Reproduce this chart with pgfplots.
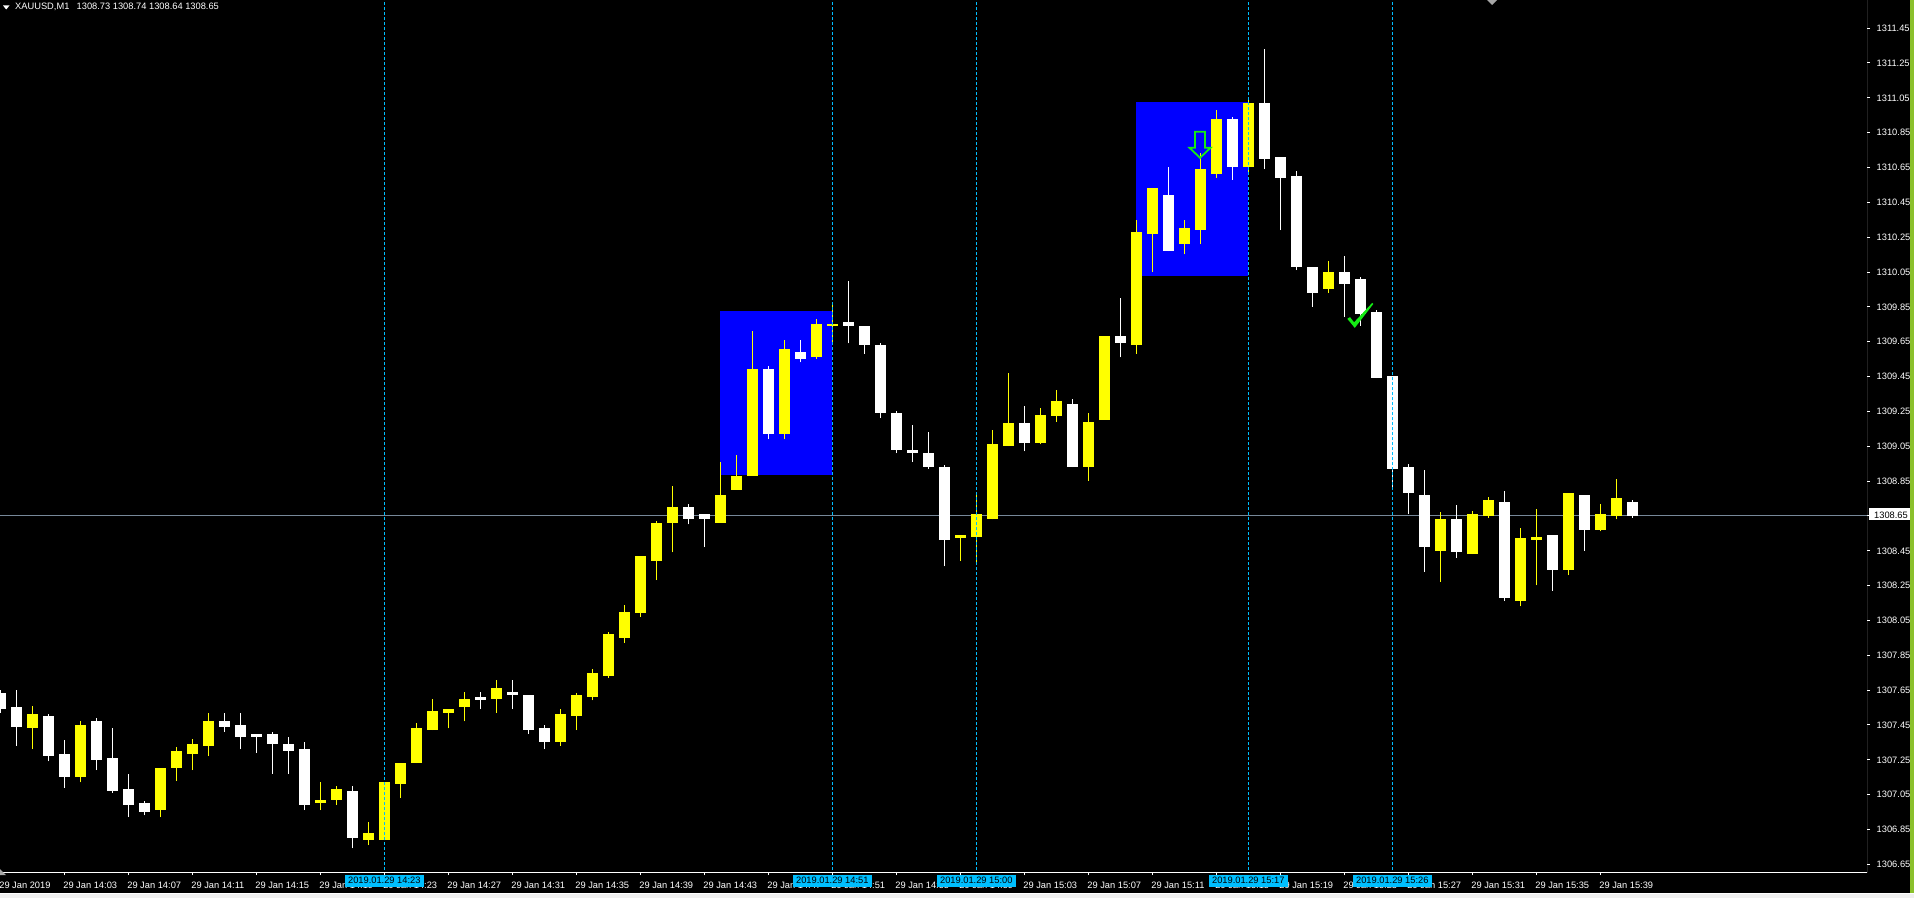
\documentclass[border=0pt]{standalone}
\usepackage{pgfplots}
\pgfplotsset{compat=1.18}
\usepackage{pgfplotstable}
\usepackage{fontspec}
\setmainfont{Liberation Sans}
\definecolor{bull}{RGB}{255,255,0}
\definecolor{bear}{RGB}{255,255,255}
\definecolor{vline}{RGB}{0,191,255}
\definecolor{boxblue}{RGB}{0,0,255}
\definecolor{bidline}{RGB}{119,136,153}
\definecolor{sig}{RGB}{20,235,20}
\definecolor{strip}{RGB}{138,192,43}

\pgfplotstableread{
k o h l c
2 1307.43 1307.56 1307.31 1307.51
5 1307.15 1307.47 1307.12 1307.45
10 1306.96 1307.20 1306.92 1307.20
11 1307.20 1307.32 1307.13 1307.30
12 1307.28 1307.37 1307.19 1307.34
13 1307.33 1307.52 1307.27 1307.47
20 1307.00 1307.12 1306.96 1307.02
21 1307.02 1307.10 1306.99 1307.08
23 1306.79 1306.89 1306.76 1306.83
24 1306.79 1307.12 1306.79 1307.12
25 1307.11 1307.23 1307.03 1307.23
26 1307.23 1307.46 1307.23 1307.43
27 1307.42 1307.60 1307.42 1307.53
28 1307.52 1307.54 1307.43 1307.54
29 1307.55 1307.64 1307.47 1307.60
31 1307.60 1307.71 1307.52 1307.66
35 1307.35 1307.54 1307.33 1307.51
36 1307.50 1307.63 1307.42 1307.62
37 1307.61 1307.77 1307.59 1307.75
38 1307.73 1307.98 1307.72 1307.97
39 1307.95 1308.14 1307.92 1308.10
40 1308.09 1308.42 1308.07 1308.42
41 1308.39 1308.62 1308.28 1308.61
42 1308.61 1308.82 1308.44 1308.70
45 1308.61 1308.96 1308.61 1308.77
46 1308.80 1309.00 1308.80 1308.88
47 1308.88 1309.71 1308.88 1309.49
49 1309.12 1309.66 1309.09 1309.61
51 1309.56 1309.78 1309.55 1309.75
52 1309.74 1309.87 1309.63 1309.75
60 1308.52 1308.54 1308.39 1308.54
61 1308.53 1308.77 1308.38 1308.66
62 1308.63 1309.14 1308.63 1309.06
63 1309.05 1309.47 1309.05 1309.18
65 1309.07 1309.27 1309.06 1309.23
66 1309.22 1309.37 1309.19 1309.31
68 1308.93 1309.24 1308.85 1309.19
69 1309.20 1309.68 1309.20 1309.68
71 1309.63 1310.35 1309.58 1310.28
72 1310.27 1310.53 1310.05 1310.53
74 1310.21 1310.35 1310.15 1310.30
75 1310.29 1310.73 1310.21 1310.64
76 1310.61 1310.98 1310.59 1310.93
78 1310.65 1311.04 1310.62 1311.02
83 1309.95 1310.11 1309.93 1310.05
90 1308.45 1308.67 1308.27 1308.63
92 1308.43 1308.68 1308.43 1308.66
93 1308.65 1308.76 1308.64 1308.74
95 1308.16 1308.58 1308.13 1308.52
96 1308.51 1308.69 1308.25 1308.53
98 1308.34 1308.78 1308.31 1308.78
100 1308.57 1308.72 1308.56 1308.66
101 1308.65 1308.86 1308.63 1308.75
}\bulltab

\pgfplotstableread{
k o h l c
0 1307.63 1307.65 1307.52 1307.54
1 1307.55 1307.65 1307.33 1307.44
3 1307.50 1307.51 1307.24 1307.27
4 1307.28 1307.36 1307.09 1307.15
6 1307.47 1307.49 1307.19 1307.25
7 1307.26 1307.43 1307.06 1307.07
8 1307.08 1307.17 1306.92 1306.99
9 1307.00 1307.01 1306.93 1306.95
14 1307.47 1307.52 1307.41 1307.44
15 1307.45 1307.52 1307.31 1307.38
16 1307.40 1307.40 1307.29 1307.38
17 1307.40 1307.41 1307.17 1307.34
18 1307.34 1307.38 1307.17 1307.30
19 1307.31 1307.35 1306.96 1306.99
22 1307.07 1307.10 1306.74 1306.80
30 1307.61 1307.64 1307.54 1307.59
32 1307.64 1307.71 1307.54 1307.62
33 1307.62 1307.62 1307.40 1307.42
34 1307.43 1307.45 1307.31 1307.35
43 1308.70 1308.72 1308.60 1308.63
44 1308.66 1308.66 1308.47 1308.63
48 1309.49 1309.51 1309.09 1309.12
50 1309.59 1309.66 1309.53 1309.55
53 1309.76 1310.00 1309.64 1309.74
54 1309.74 1309.74 1309.58 1309.63
55 1309.63 1309.64 1309.21 1309.24
56 1309.24 1309.25 1309.01 1309.03
57 1309.03 1309.17 1308.96 1309.01
58 1309.01 1309.13 1308.92 1308.93
59 1308.93 1308.94 1308.36 1308.51
64 1309.18 1309.28 1309.02 1309.07
67 1309.29 1309.32 1308.93 1308.93
70 1309.68 1309.90 1309.56 1309.64
73 1310.49 1310.65 1310.17 1310.17
77 1310.93 1310.94 1310.58 1310.65
79 1311.02 1311.33 1310.64 1310.70
80 1310.71 1310.71 1310.29 1310.59
81 1310.60 1310.63 1310.06 1310.08
82 1310.08 1310.08 1309.85 1309.93
84 1310.05 1310.14 1309.79 1309.98
85 1310.01 1310.02 1309.74 1309.81
86 1309.82 1309.83 1309.44 1309.44
87 1309.45 1309.45 1308.80 1308.92
88 1308.93 1308.95 1308.66 1308.78
89 1308.77 1308.91 1308.33 1308.47
91 1308.63 1308.71 1308.41 1308.44
94 1308.73 1308.79 1308.16 1308.18
97 1308.54 1308.54 1308.22 1308.34
99 1308.77 1308.77 1308.45 1308.57
102 1308.73 1308.74 1308.64 1308.65
}\beartab

\pgfplotstablegetrowsof{\bulltab}\pgfmathtruncatemacro\nbull{\pgfplotsretval-1}
\pgfplotstablegetrowsof{\beartab}\pgfmathtruncatemacro\nbear{\pgfplotsretval-1}

% draw the candles of one table: wick line and body rectangle, from the table's values
\newcommand\drawcandles[3]{% table, last row, colour
  \pgfplotsforeachungrouped \i in {0,...,#2}{%
    \pgfplotstablegetelem{\i}{k}\of#1\let\vk\pgfplotsretval
    \pgfplotstablegetelem{\i}{o}\of#1\let\vo\pgfplotsretval
    \pgfplotstablegetelem{\i}{h}\of#1\let\vh\pgfplotsretval
    \pgfplotstablegetelem{\i}{l}\of#1\let\vl\pgfplotsretval
    \pgfplotstablegetelem{\i}{c}\of#1\let\vc\pgfplotsretval
    \edef\xl{\fpeval{\vk-0.34375}}\edef\xr{\fpeval{\vk+0.34375}}%
    \edef\tmp{%
      \noexpand\addplot[#3, line width=1pt, forget plot] coordinates {(\vk,\vl) (\vk,\vh)};
      \noexpand\addplot[fill=#3, draw=none, forget plot] coordinates {(\xl,\vo) (\xr,\vo) (\xr,\vc) (\xl,\vc)} -- cycle;
    }\tmp
  }%
}

\pgfdeclareplotmark{dnarrow}{%
  \pgfpathmoveto{\pgfqpoint{-5pt}{26pt}}%
  \pgfpathlineto{\pgfqpoint{5pt}{26pt}}%
  \pgfpathlineto{\pgfqpoint{5pt}{10pt}}%
  \pgfpathlineto{\pgfqpoint{10.5pt}{10pt}}%
  \pgfpathlineto{\pgfqpoint{0pt}{0pt}}%
  \pgfpathlineto{\pgfqpoint{-10.5pt}{10pt}}%
  \pgfpathlineto{\pgfqpoint{-5pt}{10pt}}%
  \pgfpathclose
  \pgfusepathqstroke
}
\pgfdeclareplotmark{chk}{%
  \pgfpathmoveto{\pgfqpoint{-6.5pt}{8.5pt}}%
  \pgfpathlineto{\pgfqpoint{-3.8pt}{10.2pt}}%
  \pgfpathlineto{\pgfqpoint{0.3pt}{5pt}}%
  \pgfpathlineto{\pgfqpoint{18.5pt}{24.5pt}}%
  \pgfpathlineto{\pgfqpoint{19.5pt}{23.3pt}}%
  \pgfpathlineto{\pgfqpoint{1pt}{-0.6pt}}%
  \pgfpathclose
  \pgfusepathqfill
}

\begin{document}
\begin{tikzpicture}[x=1pt,y=1pt]
\fill[black] (0,0) rectangle (1914,898);
\useasboundingbox (0,0) rectangle (1914,898);
% right green strip and bottom window edge
\fill[strip] (1910,5) rectangle (1914,898);
\fill[gray!12] (0,0) rectangle (1914,4.5);
\draw[white, line width=0.8pt] (0,5) -- (1914,5);

\begin{axis}[
  at={(0pt,898pt)}, anchor=north west,
  scale only axis, width=1867pt, height=872pt,
  xmin=-0.0206, xmax=116.667, ymin=1306.605, ymax=1311.611,
  axis line style={draw=none},
  clip marker paths=true,
  tick align=outside, major tick length=3pt,
  tick style={white, line width=0.8pt},
  xtick pos=left, ytick pos=right, yticklabel pos=right,
  xtick={0,4,...,100},
  xticklabels={29 Jan 2019,29 Jan 14:03,29 Jan 14:07,29 Jan 14:11,29 Jan 14:15,29 Jan 14:19,29 Jan 14:23,29 Jan 14:27,29 Jan 14:31,29 Jan 14:35,29 Jan 14:39,29 Jan 14:43,29 Jan 14:47,29 Jan 14:51,29 Jan 14:55,29 Jan 14:59,29 Jan 15:03,29 Jan 15:07,29 Jan 15:11,29 Jan 15:15,29 Jan 15:19,29 Jan 15:23,29 Jan 15:27,29 Jan 15:31,29 Jan 15:35,29 Jan 15:39},
  ytick={1306.65,1306.85,1307.05,1307.25,1307.45,1307.65,1307.85,1308.05,1308.25,1308.45,1308.65,1308.85,1309.05,1309.25,1309.45,1309.65,1309.85,1310.05,1310.25,1310.45,1310.65,1310.85,1311.05,1311.25,1311.45},
  yticklabels={1306.65,1306.85,1307.05,1307.25,1307.45,1307.65,1307.85,1308.05,1308.25,1308.45,1308.65,1308.85,1309.05,1309.25,1309.45,1309.65,1309.85,1310.05,1310.25,1310.45,1310.65,1310.85,1311.05,1311.25,1311.45},
  scaled y ticks=false,
  tick label style={font=\fontsize{9.3}{11}\selectfont, text=white},
  xticklabel style={anchor=base west, inner sep=0pt, xshift=-1.2pt, yshift=-13.7pt},
  yticklabel style={anchor=base west, inner sep=0pt, xshift=6.5pt, yshift=-3.4pt},
]
% blue zones
\addplot[fill=boxblue, draw=none] coordinates {(44.98,1308.884) (51.98,1308.884) (51.98,1309.826) (44.98,1309.826)} -- cycle;
\addplot[fill=boxblue, draw=none] coordinates {(70.98,1310.028) (77.98,1310.028) (77.98,1311.025) (70.98,1311.025)} -- cycle;
% bid line
\addplot[bidline, line width=1pt] coordinates {(-1,1308.65) (120,1308.65)};
% candles
\drawcandles{\beartab}{\nbear}{bear}
\drawcandles{\bulltab}{\nbull}{bull}
% vertical dashed lines
\addplot[vline, line width=1pt, dash pattern=on 3pt off 2pt] coordinates {(24,1306.5) (24,1311.7)};
\addplot[vline, line width=1pt, dash pattern=on 3pt off 2pt] coordinates {(52,1306.5) (52,1311.7)};
\addplot[vline, line width=1pt, dash pattern=on 3pt off 2pt] coordinates {(61,1306.5) (61,1311.7)};
\addplot[vline, line width=1pt, dash pattern=on 3pt off 2pt] coordinates {(78,1306.5) (78,1311.7)};
\addplot[vline, line width=1pt, dash pattern=on 3pt off 2pt] coordinates {(87,1306.5) (87,1311.7)};
% signals
\addplot[only marks, mark=dnarrow, mark options={draw=sig, line width=1.8pt, line join=miter}] coordinates {(74.98,1310.705)};
\addplot[only marks, mark=chk, mark options={fill=sig, draw=none}] coordinates {(84.59,1309.732)};
% borders
\draw[white, line width=1pt] (rel axis cs:0,0) -- (rel axis cs:1,0) -- (rel axis cs:1,1);
\end{axis}

% current price label
\fill[white] (1868.5,377.5) rectangle (1909.5,389.5);
\node[anchor=base west, inner sep=0pt, text=black, font=\fontsize{9.3}{11}\selectfont] at (1874,379.9) {1308.65};

% vertical line time labels
\foreach \xx/\tt in {384.3/14:23, 832.3/14:51, 976.3/15:00, 1248.3/15:17, 1392.3/15:26}{
  \node[fill=vline, text=black, inner sep=0pt, minimum width=79pt, minimum height=12pt,
        font=\fontsize{9.3}{11}\selectfont] at (\xx,17.5) {2019.01.29 \tt};
}

% header
\fill[white] (3,892.5) -- (9.5,892.5) -- (6.25,888.5) -- cycle;
\node[anchor=base west, inner sep=0pt, text=white, font=\fontsize{9.3}{11}\selectfont] at (15,888) {XAUUSD,M1};
\node[anchor=base west, inner sep=0pt, text=white, font=\fontsize{9.3}{11}\selectfont] at (76.5,888) {1308.73 1308.74 1308.64 1308.65};

% small markers
\fill[gray!70] (0,29) -- (6,23) -- (0,23) -- cycle;
\fill[gray!70] (1487,898) -- (1497,898) -- (1492,893) -- cycle;
\end{tikzpicture}
\end{document}
